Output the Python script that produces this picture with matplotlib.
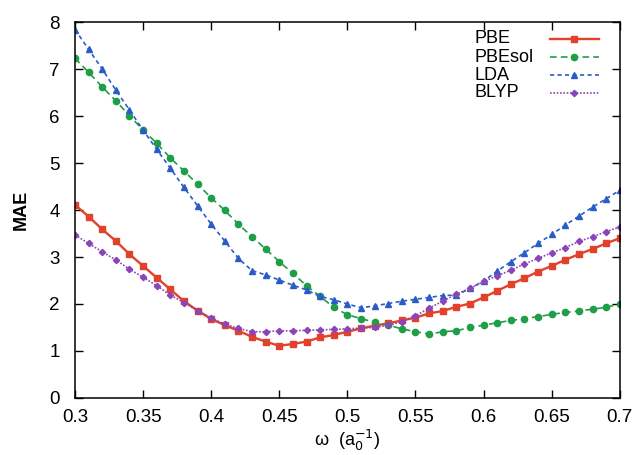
import numpy as np
import matplotlib
matplotlib.use("Agg")
import matplotlib.pyplot as plt

# Data
# -----------------------------
omega = np.round(np.arange(0.30, 0.705, 0.01), 2)

mae_pbe = [4.11, 3.86, 3.59, 3.34, 3.06, 2.81, 2.56, 2.31, 2.06, 1.86,
           1.68, 1.55, 1.43, 1.30, 1.20, 1.11, 1.15, 1.20, 1.29, 1.34,
           1.41, 1.48, 1.54, 1.59, 1.65, 1.71, 1.80, 1.85, 1.94, 2.01,
           2.14, 2.28, 2.42, 2.55, 2.69, 2.81, 2.94, 3.06, 3.17, 3.29,
           3.40]
mae_pbesol = [7.23, 6.93, 6.62, 6.32, 6.01, 5.70, 5.42, 5.11, 4.83, 4.55,
              4.26, 3.99, 3.70, 3.43, 3.17, 2.90, 2.65, 2.39, 2.16, 1.93,
              1.77, 1.69, 1.61, 1.55, 1.47, 1.41, 1.36, 1.41, 1.43, 1.50,
              1.55, 1.60, 1.65, 1.69, 1.73, 1.78, 1.82, 1.85, 1.89, 1.93,
              2.00]
mae_lda = [7.84, 7.42, 7.00, 6.55, 6.13, 5.70, 5.29, 4.89, 4.48, 4.09,
           3.70, 3.34, 2.97, 2.71, 2.62, 2.51, 2.40, 2.30, 2.16, 2.09,
           2.00, 1.92, 1.96, 2.01, 2.06, 2.10, 2.14, 2.18, 2.19, 2.33,
           2.49, 2.70, 2.90, 3.09, 3.29, 3.48, 3.68, 3.87, 4.06, 4.24,
           4.42]
mae_blyp = [3.47, 3.29, 3.11, 2.94, 2.74, 2.57, 2.39, 2.19, 2.03, 1.86,
            1.70, 1.57, 1.48, 1.41, 1.41, 1.43, 1.43, 1.44, 1.45, 1.46,
            1.47, 1.49, 1.50, 1.55, 1.62, 1.75, 1.91, 2.06, 2.21, 2.33,
            2.48, 2.60, 2.72, 2.85, 2.97, 3.09, 3.20, 3.33, 3.43, 3.54,
            3.64]

labels = ['PBE', 'PBEsol', 'LDA', 'BLYP']
xticks = [0.3, 0.35, 0.4, 0.45, 0.5, 0.55, 0.6, 0.65, 0.7]
xtick_labels = ['0.3', '0.35', '0.4', '0.45', '0.5', '0.55', '0.6', '0.65', '0.7']

# Styles
# ------
styles = [dict(color='#e2412c', linestyle='-', linewidth=1.7, marker='s', markersize=4.5),
          dict(color='#1f9e48', linestyle=(0, (4, 2.5)), linewidth=1.2, marker='o', markersize=4.5),
          dict(color='#2a5cc8', linestyle=(0, (2.5, 2)), linewidth=1.2, marker='^', markersize=4.5),
          dict(color='#8a45b8', linestyle=(0, (1, 1)), linewidth=1.2, marker='D', markersize=3.2)]

# Figure
# ------
plt.rcParams['font.family'] = ['Liberation Sans', 'DejaVu Sans']
fig = plt.figure(figsize=(6.37, 4.55), dpi=100)
ax = fig.add_axes([0.1177, 0.1253, 0.8553, 0.8263])

for data, st in zip([mae_pbe, mae_pbesol, mae_lda, mae_blyp], styles):
    ax.plot(omega, data, **st)

ax.set_xlim(0.3, 0.7)
ax.set_ylim(0, 8)
ax.set_xticks(xticks)
ax.set_xticklabels(xtick_labels)
ax.set_yticks(range(0, 9))
ax.tick_params(direction='in', top=True, right=True, length=6, width=1,
               labelsize=13.5, pad=8)
ax.tick_params(axis='y', pad=11)
for sp in ax.spines.values():
    sp.set_linewidth(1.1)

ax.set_xlabel('ω  (a$_0^{-1}$)', fontsize=13, labelpad=1)
ax.set_ylabel('MAE', fontsize=13, fontweight='bold', labelpad=14)

# Legend: gnuplot style, text left, sample right
# ----------------------------------------------
row_y = [0.955, 0.906, 0.859, 0.812]
for lab, st, yy in zip(labels, styles, row_y):
    ax.text(0.734, yy, lab, transform=ax.transAxes, fontsize=13,
            ha='left', va='center')
    ax.plot([0.8716, 0.9156, 0.9615], [yy, yy, yy], transform=ax.transAxes,
            markevery=[1], clip_on=False, **st)

plt.savefig('out.png', dpi=100, facecolor='w')
